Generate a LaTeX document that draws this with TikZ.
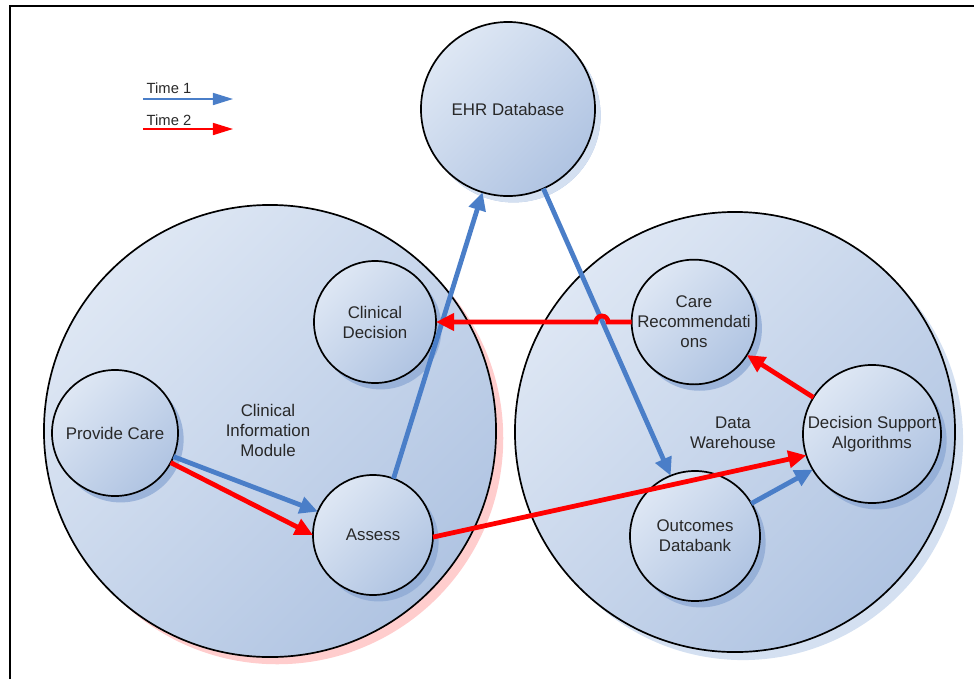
\documentclass[tikz,border=0pt]{standalone}
\usepackage{fontspec}
\setmainfont{Liberation Sans}
\usepackage{xcolor}
\usetikzlibrary{positioning,shadows,arrows.meta}
\definecolor{myblue}{RGB}{74,126,200}
\definecolor{myred}{RGB}{255,0,0}
\definecolor{lightfill}{RGB}{222,231,244}
\definecolor{darkfill}{RGB}{176,196,226}
\definecolor{shadowblue}{RGB}{140,168,212}
\definecolor{mypink}{RGB}{255,205,205}
\definecolor{paleblue}{RGB}{212,224,241}
\definecolor{mytext}{RGB}{40,40,40}

\begin{document}
\begin{tikzpicture}[x=0.025cm,y=-0.025cm,
          module/.style={circle,draw=black,line width=1.2pt,inner sep=0pt,outer sep=0pt,
            top color=lightfill,bottom color=darkfill,shading angle=45},
          proc/.style={module,text=mytext,align=center,font=\fontsize{12}{14.2}\selectfont,
            drop shadow={shadow xshift=0.14cm,shadow yshift=-0.16cm,fill=shadowblue,opacity=0.75}},
          lbl/.style={text=mytext,align=center,font=\fontsize{12}{14.2}\selectfont},
          key/.style={text=mytext,font=\fontsize{10.5}{12}\selectfont},
          flow/.style={line width=3.4pt,-{Triangle[length=0.45cm,width=0.42cm]}},
          t1/.style={flow,myblue},
          t2/.style={flow,myred}
          ]
          \useasboundingbox (0,0) rectangle (974,679);
          % the frame
          \draw[line width=1.3pt] (10,679) -- (10,6) -- (974,6);
          % the two modules
          \node[module,minimum size=11.3cm,
            drop shadow={shadow xshift=0.18cm,shadow yshift=-0.18cm,fill=mypink,opacity=1}] (cim) at (270,431) {};
          \node[module,minimum size=11cm,
            drop shadow={shadow xshift=0.2cm,shadow yshift=-0.2cm,fill=paleblue,opacity=1}] (dw) at (735,432) {};
          \node[lbl] (cimlbl) at (268,430) {Clinical\\Information\\Module};
          \node[lbl] (dwlbl) at (733,433) {Data\\Warehouse};
          % the processes
          \node[proc,minimum size=4.35cm,
            drop shadow={shadow xshift=0.14cm,shadow yshift=-0.16cm,fill=paleblue,opacity=1}] (ehr) at (508,109) {EHR Database};
          \foreach \nm/\x/\y/\sz/\txt in {cd/375/322/3.05/{Clinical\\Decision}, pc/115/433/3.15/{Provide Care},
              as/373/535/3.0/{Assess}, cr/694/322/3.1/{Care\\Recommendati\\ons},
              dsa/872/434/3.45/{Decision Support\\Algorithms}, od/695/536/3.25/{Outcomes\\Databank}}
            \node[proc,minimum size=\sz cm] (\nm) at (\x,\y) {\txt};
          % the key
          \node[key] (time1) at (169,88) {Time 1};
          \node[key] (time2) at (169,120) {Time 2};
          \coordinate (k1a) at (143,99);
          \coordinate (k1b) at (233,99);
          \coordinate (k2a) at (143,129);
          \coordinate (k2b) at (233,129);
          \draw[myblue,line width=1.1pt,-{Triangle[length=0.5cm,width=0.3cm]}] (k1a) -- (k1b);
          \draw[myred,line width=1.1pt,-{Triangle[length=0.5cm,width=0.3cm]}] (k2a) -- (k2b);
          % time 1
          \draw[t1] (pc.-22) -- (as.157);
          \draw[t1] (as.70) -- (ehr.-107);
          \draw[t1] (ehr.-66) -- (od.112);
          \draw[t1] (od.30) -- (dsa.-149);
          % time 2
          \coordinate (jmp) at (608,322);
          \draw[t2] (pc.-28) -- (as.180);
          \draw[t2] (as.-2) -- (dsa.-162);
          \draw[t2] (dsa.148) -- (cr.-32);
          \draw[t2] (cr.west) -- (jmp) arc[start angle=0,end angle=180,radius=0.15cm] -- (cd.east);
\end{tikzpicture}
\end{document}
